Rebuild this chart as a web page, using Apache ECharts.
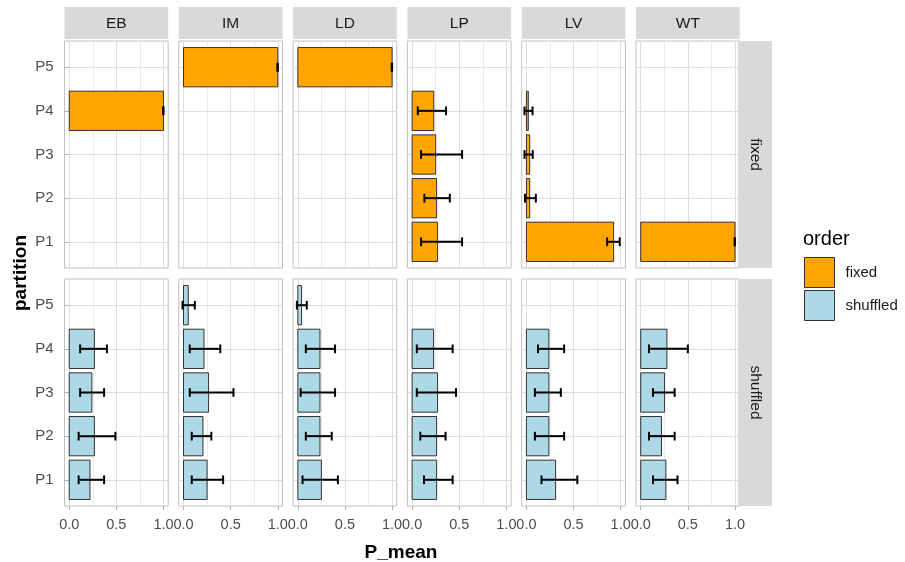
<!DOCTYPE html>
<html>
<head>
<meta charset="utf-8">
<script src="https://cdn.jsdelivr.net/npm/echarts@6/dist/echarts.min.js"></script>
<style>
html,body{margin:0;padding:0;background:#fff;}
#chart{width:905px;height:562px;}
</style>
</head>
<body>
<div id="chart"></div>
<script>
// ---- data ----
const partitions = ['P1', 'P2', 'P3', 'P4', 'P5'];
const groups = ['EB', 'IM', 'LD', 'LP', 'LV', 'WT'];
const orders = ['fixed', 'shuffled'];
const xTickLabels = [0, 0.5, 1];
const xMinorTicks = [0.25, 0.75];

// values indexed [group][partition P1..P5]
const fixedMean = [
  [null, null, null, 1.0, null],
  [null, null, null, null, 1.0],
  [null, null, null, null, 1.0],
  [0.27, 0.26, 0.25, 0.23, null],
  [0.925, 0.035, 0.035, 0.02, null],
  [1.0, null, null, null, null]
];
const fixedLow = [
  [null, null, null, 0.996, null],
  [null, null, null, null, 0.996],
  [null, null, null, null, 0.996],
  [0.095, 0.13, 0.095, 0.06, null],
  [0.856, -0.015, -0.02, -0.02, null],
  [0.996, null, null, null, null]
];
const fixedHigh = [
  [null, null, null, 1.0, null],
  [null, null, null, null, 1.0],
  [null, null, null, null, 1.0],
  [0.53, 0.40, 0.53, 0.36, null],
  [0.99, 0.10, 0.067, 0.065, null],
  [1.0, null, null, null, null]
];
const shuffledMean = [
  [0.22, 0.267, 0.24, 0.267, null],
  [0.25, 0.206, 0.266, 0.217, 0.05],
  [0.25, 0.235, 0.235, 0.235, 0.04],
  [0.26, 0.26, 0.27, 0.228, null],
  [0.31, 0.238, 0.238, 0.238, null],
  [0.267, 0.22, 0.253, 0.278, null]
];
const shuffledLow = [
  [0.10, 0.10, 0.116, 0.116, null],
  [0.087, 0.087, 0.066, 0.066, -0.01],
  [0.05, 0.085, 0.03, 0.085, -0.01],
  [0.126, 0.087, 0.05, 0.05, null],
  [0.16, 0.09, 0.09, 0.123, null],
  [0.13, 0.088, 0.13, 0.088, null]
];
const shuffledHigh = [
  [0.37, 0.49, 0.37, 0.40, null],
  [0.42, 0.295, 0.53, 0.39, 0.12],
  [0.425, 0.36, 0.395, 0.395, 0.095],
  [0.43, 0.355, 0.466, 0.43, null],
  [0.54, 0.40, 0.365, 0.40, null],
  [0.39, 0.36, 0.36, 0.50, null]
];
const orderColors = ['#FFA500', '#ADD8E6'];

// ---- layout ----
const FONT = '"Liberation Sans", Arial, sans-serif';
const panelLeft0 = 64.5, panelStep = 114.3, panelW = 103.7;
const rowTops = [41, 279], panelH = 227;
const stripTop = 7, stripH = 32;
const rStripX = 738, rStripW = 34;

const meanSets = [fixedMean, shuffledMean];
const lowSets = [fixedLow, shuffledLow];
const highSets = [fixedHigh, shuffledHigh];

const grids = [], xAxes = [], yAxes = [], series = [], graphics = [];

function renderItem(params, api) {
  const y = api.value(0), v = api.value(1), lo = api.value(2), hi = api.value(3);
  const a = api.coord([0, y + 0.45]);
  const b = api.coord([v, y - 0.45]);
  const e0 = api.coord([lo, y]);
  const e1 = api.coord([hi, y]);
  const cap = api.size([0, 0.2])[1] / 2;
  const color = api.visual('color');
  return {
    type: 'group',
    children: [
      { type: 'rect', shape: { x: a[0], y: a[1], width: b[0] - a[0], height: b[1] - a[1] },
        style: { fill: color, stroke: '#333333', lineWidth: 1 } },
      { type: 'line', shape: { x1: e0[0], y1: e0[1], x2: e1[0], y2: e1[1] },
        style: { stroke: '#000', lineWidth: 2 } },
      { type: 'line', shape: { x1: e0[0], y1: e0[1] - cap, x2: e0[0], y2: e0[1] + cap },
        style: { stroke: '#000', lineWidth: 2 } },
      { type: 'line', shape: { x1: e1[0], y1: e1[1] - cap, x2: e1[0], y2: e1[1] + cap },
        style: { stroke: '#000', lineWidth: 2 } }
    ]
  };
}

orders.forEach((ord, r) => {
  groups.forEach((g, c) => {
    const gi = grids.length;
    const left = panelLeft0 + c * panelStep;
    grids.push({
      left: left, top: rowTops[r], width: panelW, height: panelH,
      show: true, backgroundColor: '#fff', borderColor: '#C0C0C0', borderWidth: 1,
      containLabel: false
    });
    // major x axis
    xAxes.push({
      type: 'value', gridIndex: gi, min: -0.05, max: 1.05,
      axisLine: { show: false },
      axisTick: { show: r === 1, customValues: xTickLabels, length: 4, lineStyle: { color: '#B3B3B3' } },
      axisLabel: { show: r === 1, customValues: xTickLabels, margin: 11,
        formatter: v => v.toFixed(1), color: '#4D4D4D', fontSize: 14.5, fontFamily: FONT },
      splitLine: { show: true, lineStyle: { color: '#DEDEDE', width: 1 } }
    });
    // minor x axis (grid lines only)
    xAxes.push({
      type: 'value', gridIndex: gi, min: -0.05, max: 1.05,
      axisLine: { show: false },
      axisTick: { show: false, customValues: xMinorTicks },
      axisLabel: { show: false, customValues: xMinorTicks },
      splitLine: { show: true, lineStyle: { color: '#E6E6E6', width: 0.8 } }
    });
    yAxes.push({
      type: 'value', gridIndex: gi, min: 0.4, max: 5.6,
      axisLine: { show: false },
      axisTick: { show: c === 0, customValues: [1, 2, 3, 4, 5], length: 5, lineStyle: { color: '#B3B3B3' } },
      axisLabel: { show: c === 0, customValues: [1, 2, 3, 4, 5], margin: 11,
        formatter: v => partitions[Math.round(v) - 1], color: '#4D4D4D', fontSize: 15, fontFamily: FONT },
      splitLine: { show: true, lineStyle: { color: '#DEDEDE', width: 1 } }
    });
    const data = [];
    partitions.forEach((p, k) => {
      const m = meanSets[r][c][k];
      if (m !== null) data.push([k + 1, m, lowSets[r][c][k], highSets[r][c][k]]);
    });
    series.push({
      type: 'custom', name: ord, xAxisIndex: 2 * gi, yAxisIndex: gi,
      itemStyle: { color: orderColors[r] },
      encode: { x: [1, 2, 3], y: 0 },
      renderItem: renderItem, data: data, silent: true, animation: false
    });
    // top strips
    if (r === 0) {
      graphics.push({
        type: 'rect', left: left, top: stripTop,
        shape: { width: panelW, height: stripH }, style: { fill: '#D9D9D9' }
      });
      graphics.push({
        type: 'text', x: left + panelW / 2, y: stripTop + stripH / 2 + 1,
        style: { text: g, fill: '#1A1A1A', font: '15.5px ' + FONT, align: 'center', verticalAlign: 'middle' }
      });
    }
  });
  // right strips
  graphics.push({
    type: 'rect', left: rStripX, top: rowTops[r],
    shape: { width: rStripW, height: panelH }, style: { fill: '#D9D9D9' }
  });
  graphics.push({
    type: 'text', x: rStripX + rStripW / 2, y: rowTops[r] + panelH / 2, rotation: -Math.PI / 2,
    style: { text: ord, fill: '#1A1A1A', font: '15.5px ' + FONT, align: 'center', verticalAlign: 'middle' }
  });
});

// axis titles & legend title
graphics.push({
  type: 'text', x: 401, y: 553,
  style: { text: 'P_mean', fill: '#000', font: 'bold 19px ' + FONT, align: 'center', verticalAlign: 'middle' }
});
graphics.push({
  type: 'text', x: 21, y: 273, rotation: Math.PI / 2,
  style: { text: 'partition', fill: '#000', font: 'bold 19px ' + FONT, align: 'center', verticalAlign: 'middle' }
});
graphics.push({
  type: 'text', x: 803, y: 239,
  style: { text: 'order', fill: '#000', font: '20px ' + FONT, align: 'left', verticalAlign: 'middle' }
});

const chart = echarts.init(document.getElementById('chart'), null, { renderer: 'canvas' });
chart.setOption({
  animation: false,
  grid: grids,
  xAxis: xAxes,
  yAxis: yAxes,
  series: series,
  graphic: graphics,
  legend: {
    data: orders, orient: 'vertical', left: 804, top: 257, padding: 0,
    itemWidth: 30, itemHeight: 30, itemGap: 2, icon: 'rect', selectedMode: false,
    itemStyle: { borderColor: '#333333', borderWidth: 1 },
    textStyle: { fontSize: 15, color: '#1A1A1A', fontFamily: FONT, padding: [0, 0, 0, 6] }
  }
});
</script>
</body>
</html>
